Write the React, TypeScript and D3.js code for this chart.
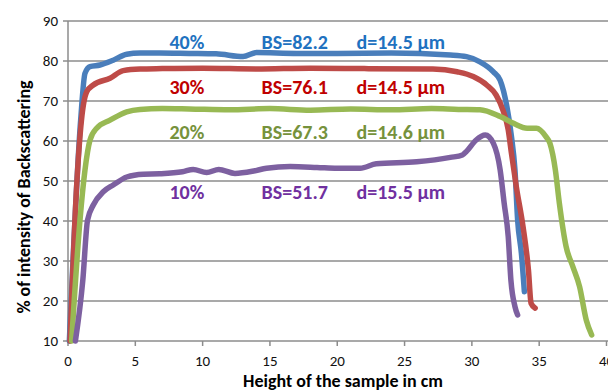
import * as d3 from 'd3';
import { useEffect } from 'react';

// Backscattering profiles
const blueX = [0.1, 0.94, 1.26, 1.63, 2.38, 3.36, 4.36, 5.35, 6.8, 9, 11, 13, 14, 17, 20, 24, 28.4, 29.6, 30.6, 31.6, 32.1, 32.6, 32.94, 33.2, 33.4, 33.68, 33.9];
const blueY = [10, 65.2, 76.9, 78.6, 79, 80.2, 81.7, 82, 82, 81.9, 81.8, 81.1, 82.1, 81.9, 81.9, 82, 81.5, 81.1, 79.8, 77.3, 75.2, 68.6, 61.1, 52.8, 40.2, 31.9, 22.3];

const redX = [0.15, 0.64, 1.0, 1.39, 1.88, 3.12, 4.1, 5.35, 7, 10, 14, 18, 22, 27.1, 28.9, 30.1, 31.1, 31.8, 32.3, 32.7, 32.94, 33.3, 33.8, 34.2, 34.4, 34.7];
const redY = [10, 48.6, 65.2, 72.3, 74, 75.7, 77.6, 78, 78.1, 78.2, 78, 78.2, 78.1, 78, 77.3, 76.1, 74, 71.5, 67.8, 62.8, 56.9, 48.6, 38.6, 27.8, 19.4, 18.2];

const greenX = [0.27, 0.89, 1.26, 1.63, 2.13, 3.12, 4.36, 5.35, 7, 9, 12, 15, 18, 21, 24, 27, 29, 30.6, 32.1, 33.1, 34.1, 34.8, 35.5, 35.8, 36.2, 36.5, 37.0, 37.5, 38.0, 38.5, 38.9];
const greenY = [10, 40.2, 52.7, 60.2, 63.2, 65.2, 67.3, 67.9, 68.1, 68, 67.8, 68.1, 67.7, 68, 67.8, 68.1, 67.9, 67.8, 66.1, 64.4, 63.2, 63.2, 61.1, 59.4, 52.8, 44.4, 33.6, 28.6, 23.6, 15.2, 11.5];

const purpleX = [0.55, 1.1, 1.45, 1.88, 2.62, 3.36, 4.36, 5.6, 6.8, 8.5, 9.3, 10.3, 11.2, 12.4, 13.8, 14.75, 16.5, 18.5, 20, 21.7, 22.9, 25.9, 28.4, 29.3, 29.6, 30.3, 31.0, 31.6, 32.1, 32.4, 32.7, 32.9, 33.2, 33.4];
const purpleY = [10, 25.2, 40.2, 44, 47.3, 49, 51, 51.7, 51.8, 52.3, 52.9, 52.1, 52.9, 51.9, 52.5, 53.2, 53.6, 53.4, 53.2, 53.2, 54.3, 54.8, 55.9, 56.5, 57.4, 60.2, 61.5, 59.4, 52.8, 44.4, 36.1, 25.2, 18.6, 16.5];

const concentrations = ['40%', '30%', '20%', '10%'];
const bsValues = ['BS=82.2', 'BS=76.1', 'BS=67.3', 'BS=51.7'];
const diameters = ['d=14.5 µm', 'd=14.5 µm', 'd=14.6 µm', 'd=15.5 µm'];
const labelLevels = [84.8, 73.6, 62.3, 47.3];

const xTicks = [0, 5, 10, 15, 20, 25, 30, 35, 40];
const yTicks = [10, 20, 30, 40, 50, 60, 70, 80, 90];

const lineColors = ['#4a7ebb', '#be4b48', '#98b954', '#7d60a0'];
const textColors = ['#1f72c0', '#c00000', '#76923c', '#7030a0'];

const W = 608;
const H = 390;
const margin = { top: 21, right: 1, bottom: 49, left: 68 };

const font = 'Carlito, Lato, sans-serif';

export default function App() {
  useEffect(() => {
    document.body.style.margin = '0';
  }, []);

  const x = d3.scaleLinear().domain([0, 40]).range([margin.left, W - margin.right - 0.5]);
  const y = d3.scaleLinear().domain([10, 90]).range([H - margin.bottom, margin.top]);

  const series = [
    { xs: blueX, ys: blueY },
    { xs: redX, ys: redY },
    { xs: greenX, ys: greenY },
    { xs: purpleX, ys: purpleY },
  ];

  const line = d3.line<[number, number]>()
    .x(d => x(d[0]))
    .y(d => y(d[1]))
    .curve(d3.curveMonotoneX);

  const grid = '#8c8c8c';

  return (
    <svg width={W} height={H} style={{ display: 'block', background: '#fff' }} fontFamily={font}>
      {/* gridlines */}
      {yTicks.map(t => (
        <g key={t}>
          <line x1={margin.left - 5} x2={W} y1={y(t)} y2={y(t)} stroke={grid} strokeWidth={1.5} />
          <text x={margin.left - 10} y={y(t)} dy="0.36em" textAnchor="end" fontSize={15} fill="#111">{t}</text>
        </g>
      ))}
      <line x1={margin.left} x2={margin.left} y1={y(90)} y2={y(10)} stroke={grid} strokeWidth={1.5} />
      {xTicks.map(t => (
        <g key={t}>
          <line x1={x(t)} x2={x(t)} y1={y(10)} y2={y(10) + 5} stroke={grid} strokeWidth={1.5} />
          <text x={x(t)} y={y(10) + 25} textAnchor="middle" fontSize={15} fill="#111">{t}</text>
        </g>
      ))}

      {/* profiles */}
      {series.map((s, i) => (
        <path
          key={i}
          d={line(s.xs.map((v, j) => [v, s.ys[j]] as [number, number])) || ''}
          fill="none"
          stroke={lineColors[i]}
          strokeWidth={5.5}
          strokeLinecap="round"
          strokeLinejoin="round"
        />
      ))}

      {/* annotations */}
      {concentrations.map((c, i) => (
        <g key={c} fontWeight="bold" fontSize={20} fill={textColors[i]}>
          <text x={x(8.83)} y={y(labelLevels[i])} dy="0.36em" textAnchor="middle">{c}</text>
          <text x={x(14.38)} y={y(labelLevels[i])} dy="0.36em">{bsValues[i]}</text>
          <text x={x(21.43)} y={y(labelLevels[i])} dy="0.36em">{diameters[i]}</text>
        </g>
      ))}

      {/* axis titles */}
      <text x={343} y={387} textAnchor="middle" fontWeight="bold" fontSize={18} fill="#000">Height of the sample in cm</text>
      <text transform="translate(30,197) rotate(-90)" textAnchor="middle" fontWeight="bold" fontSize={18} fill="#000">% of intensity of Backscattering</text>
    </svg>
  );
}
